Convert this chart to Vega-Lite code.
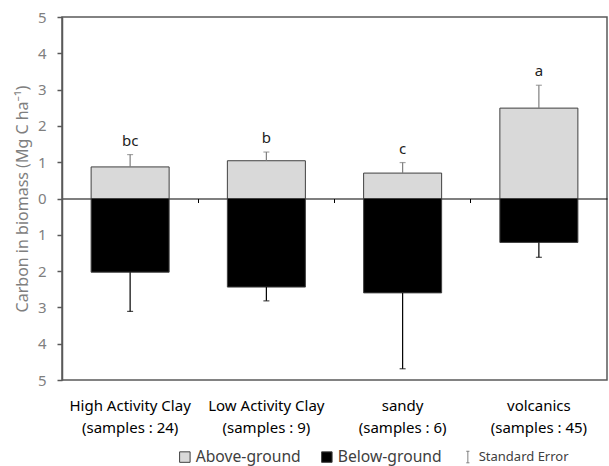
{
  "$schema": "https://vega.github.io/schema/vega-lite/v6.json",
  "width": 545,
  "height": 363,
  "autosize": "none",
  "padding": {"left": 62, "top": 17, "right": 2, "bottom": 86},
  "config": {
    "font": "Noto Sans",
    "view": {"stroke": "#595959", "strokeWidth": 1.5}
  },
  "data": {
    "values": [
      {"soil": "High Activity Clay|(samples : 24)", "part": "Above-ground", "value": 0.87, "err": 1.21, "letter": "bc"},
      {"soil": "High Activity Clay|(samples : 24)", "part": "Below-ground", "value": -2.03, "err": -3.11, "letter": ""},
      {"soil": "Low Activity Clay|(samples : 9)", "part": "Above-ground", "value": 1.04, "err": 1.28, "letter": "b"},
      {"soil": "Low Activity Clay|(samples : 9)", "part": "Below-ground", "value": -2.44, "err": -2.82, "letter": ""},
      {"soil": "sandy|(samples : 6)", "part": "Above-ground", "value": 0.7, "err": 0.99, "letter": "c"},
      {"soil": "sandy|(samples : 6)", "part": "Below-ground", "value": -2.6, "err": -4.69, "letter": ""},
      {"soil": "volcanics|(samples : 45)", "part": "Above-ground", "value": 2.49, "err": 3.12, "letter": "a"},
      {"soil": "volcanics|(samples : 45)", "part": "Below-ground", "value": -1.21, "err": -1.62, "letter": ""}
    ]
  },
  "resolve": {"axis": {"x": "independent", "y": "independent"}},
  "layer": [
    {
      "mark": {"type": "bar", "width": {"band": 0.5725}, "stroke": "#404040", "strokeWidth": 1},
      "encoding": {
        "x": {
          "field": "soil", "type": "nominal", "sort": null,
          "scale": {"paddingInner": 0, "paddingOuter": 0},
          "axis": {
            "title": null, "domain": false, "ticks": false, "labelAngle": 0,
            "labelExpr": "split(datum.label, '|')",
            "labelFontSize": 15, "labelFontWeight": "normal", "labelColor": "#000000", "labelPadding": 18,
            "labelBaseline": "top", "labelLineHeight": 22, "labelLimit": 200
          }
        },
        "y": {
          "field": "value", "type": "quantitative",
          "scale": {"domain": [-5, 5], "nice": false},
          "axis": {
            "orient": "left",
            "title": "Carbon in biomass (Mg C ha⁻¹)",
            "titleFontSize": 16, "titleFontWeight": "normal", "titleColor": "#7f7f7f", "titlePadding": 7,
            "values": [-5, -4, -3, -2, -1, 0, 1, 2, 3, 4, 5],
            "labelExpr": "format(abs(datum.value), 'd')", "labelOverlap": false,
            "labelFontSize": 15, "labelColor": "#7f7f7f", "labelPadding": 11,
            "grid": false, "domainColor": "#595959", "domainWidth": 1.5,
            "tickColor": "#595959", "tickSize": 5, "tickWidth": 1.5
          }
        },
        "fill": {
          "field": "part", "type": "nominal",
          "scale": {"domain": ["Above-ground", "Below-ground", "Standard Error"], "range": ["#d9d9d9", "#000000", "rgba(0,0,0,0)"]},
          "legend": {
            "title": null, "orient": "none", "legendX": 115, "legendY": 432,
            "direction": "horizontal", "columns": 3, "padding": 0,
            "symbolType": "square", "symbolSize": 110, "symbolStrokeColor": "#404040", "symbolStrokeWidth": 1,
            "labelFontSize": 15.7, "labelColor": "#404040", "labelOffset": 3, "columnPadding": 18,
            "encode": {
              "symbols": {"update": {
                "shape": {"signal": "datum.value === 'Standard Error' ? 'M-0.3,-1.1H0.3M0,-1.1V1.1M-0.3,1.1H0.3' : 'square'"},
                "stroke": {"signal": "datum.value === 'Standard Error' ? '#7f7f7f' : '#404040'"}
              }},
              "labels": {"update": {
                "fontSize": {"signal": "datum.value === 'Standard Error' ? 13 : 15.7"}
              }}
            }
          }
        }
      }
    },
    {
      "mark": {"type": "rule", "strokeWidth": 1.2},
      "encoding": {
        "x": {"field": "soil", "type": "nominal", "sort": null, "axis": null},
        "y": {"field": "value", "type": "quantitative", "axis": null},
        "y2": {"field": "err"},
        "stroke": {"condition": {"test": "datum.part === 'Above-ground'", "value": "#7f7f7f"}, "value": "#000000"}
      }
    },
    {
      "mark": {"type": "tick", "size": 6, "thickness": 1.2},
      "encoding": {
        "x": {"field": "soil", "type": "nominal", "sort": null, "axis": null},
        "y": {"field": "err", "type": "quantitative", "axis": null},
        "color": {"condition": {"test": "datum.part === 'Above-ground'", "value": "#7f7f7f"}, "value": "#000000"}
      }
    },
    {
      "mark": {"type": "text", "baseline": "alphabetic", "dy": -9, "fontSize": 15, "color": "#222222"},
      "encoding": {
        "x": {
          "field": "soil", "type": "nominal", "sort": null,
          "axis": {
            "orient": "bottom", "offset": -181.5, "title": null, "labels": false,
            "bandPosition": 0, "ticks": true, "tickSize": 4, "tickColor": "#000000", "tickWidth": 1,
            "domain": true, "domainColor": "#000000", "domainWidth": 1.2, "grid": false
          }
        },
        "y": {"field": "err", "type": "quantitative", "axis": null},
        "text": {"field": "letter"}
      }
    }
  ]
}
